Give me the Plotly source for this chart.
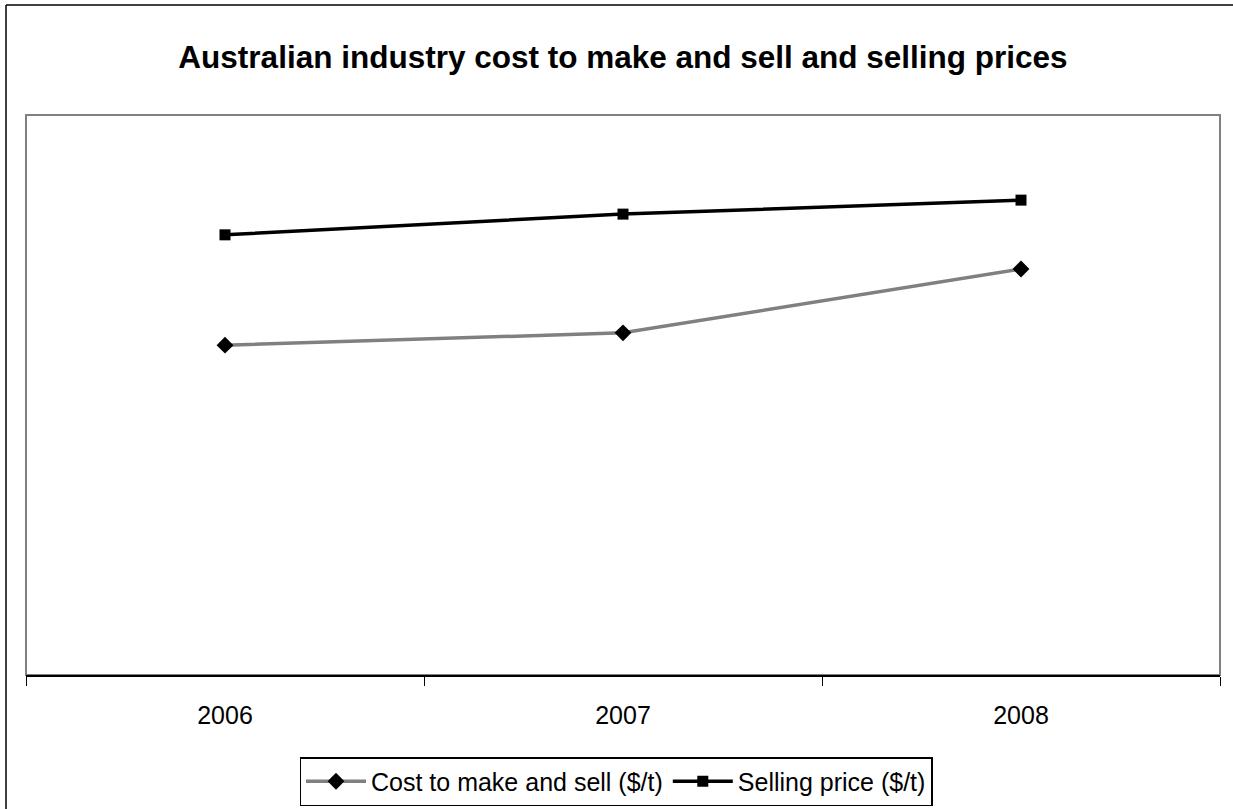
import plotly.graph_objects as go

years = ["2006", "2007", "2008"]
cost_to_make_and_sell = [589, 611, 725]
selling_price = [786, 823, 848]

fig = go.Figure()

fig.add_trace(go.Scatter(
    x=years, y=cost_to_make_and_sell, name="Cost to make and sell ($/t)",
    mode="lines+markers",
    line=dict(color="#808080", width=3.5),
    marker=dict(symbol="diamond", size=13, color="black"),
))
fig.add_trace(go.Scatter(
    x=years, y=selling_price, name="Selling price ($/t)",
    mode="lines+markers",
    line=dict(color="black", width=3.5),
    marker=dict(symbol="square", size=11, color="black"),
))

W, H = 1233, 809
L, R, T, B = 26, 13, 115, 134
pw, ph = W - L - R, H - T - B

def px_x(p):
    return (p - L) / pw

def px_y(p):
    return (H - B - p) / ph

shapes = [
    # outer chart frame (left and top edges)
    dict(type="line", xref="paper", yref="paper",
         x0=px_x(6), x1=px_x(6), y0=px_y(860), y1=px_y(5),
         line=dict(color="black", width=1.5), layer="below"),
    dict(type="line", xref="paper", yref="paper",
         x0=px_x(6), x1=px_x(1300), y0=px_y(5), y1=px_y(5),
         line=dict(color="black", width=1.5), layer="below"),
    # plot area frame
    dict(type="rect", xref="paper", yref="paper",
         x0=0, x1=1, y0=0, y1=1,
         line=dict(color="#808080", width=2), layer="below"),
]

fig.update_layout(
    width=W, height=H,
    margin=dict(l=L, r=R, t=T, b=B, autoexpand=False),
    paper_bgcolor="white", plot_bgcolor="white",
    font=dict(family="Liberation Sans, Arial, sans-serif", color="black"),
    title=dict(text="<b>Australian industry cost to make and sell and selling prices</b>",
               x=0.5, xref="paper", xanchor="center",
               y=1 - 57 / H, yanchor="middle",
               font=dict(size=31.5)),
    showlegend=True,
    legend=dict(orientation="h", x=px_x(616), xanchor="center",
                y=px_y(757), yanchor="top",
                bordercolor="black", borderwidth=1.5,
                font=dict(size=25), itemwidth=60,
                tracegroupgap=0, bgcolor="white"),
    shapes=shapes,
    xaxis=dict(type="category", range=[-0.5, 2.5],
               showgrid=False, zeroline=False,
               showline=True, linecolor="black", linewidth=1.5,
               ticks="outside", tickson="boundaries", ticklen=9,
               tickcolor="black", tickwidth=1,
               tickfont=dict(size=25), ticklabelstandoff=17),
    yaxis=dict(range=[0, 1000], showgrid=False, zeroline=False,
               showticklabels=False, ticks="", showline=False),
)

fig.write_html("out.html")
